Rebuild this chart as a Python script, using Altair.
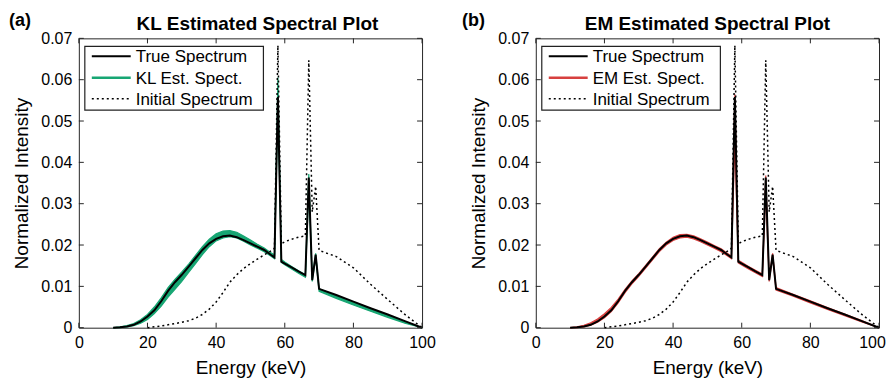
import altair as alt
import pandas as pd

FONT = "Liberation Sans"

energy = [10, 12, 14, 16, 18, 20, 22, 24, 26, 28, 30, 32, 34, 36, 38, 40, 42, 44, 46, 48,
          50, 52, 54, 56, 57, 58, 59, 60, 62, 64, 66, 67, 68, 69, 70, 75, 80, 85, 90, 95, 100]

true_spec = [0.0, 0.0001, 0.0003, 0.0007, 0.0015, 0.0027, 0.0042, 0.0064, 0.0089, 0.0110,
             0.0128, 0.0148, 0.0168, 0.0188, 0.0204, 0.0215, 0.0221, 0.0223, 0.0219, 0.0212,
             0.0204, 0.0196, 0.0188, 0.0176, 0.0170, 0.0558, 0.0160, 0.0155, 0.0146, 0.0136,
             0.0127, 0.0363, 0.0115, 0.0177, 0.0094, 0.0079, 0.0063, 0.0047, 0.0032, 0.0016, 0.0]

init_energy = energy[5:]
init_spec = [0.0, 0.0002, 0.0004, 0.0007, 0.0010, 0.0013, 0.0017, 0.0023, 0.0032, 0.0045,
             0.0062, 0.0085, 0.0110, 0.0128, 0.0143, 0.0155, 0.0166, 0.0176, 0.0186, 0.0192,
             0.0683, 0.0203, 0.0208, 0.0214, 0.0219, 0.0222, 0.0647, 0.0280, 0.0342, 0.0187,
             0.0172, 0.0145, 0.0105, 0.0068, 0.0032, 0.0]

kl_hi = [0.0, 0.0002, 0.0005, 0.0010, 0.0019, 0.0032, 0.0050, 0.0072, 0.0097, 0.0117,
         0.0135, 0.0154, 0.0175, 0.0196, 0.0214, 0.0227, 0.0234, 0.0235, 0.0231, 0.0222,
         0.0212, 0.0202, 0.0193, 0.0181, 0.0176, 0.0605, 0.0165, 0.0159, 0.0148, 0.0138,
         0.0128, 0.0372, 0.0118, 0.0180, 0.0094, 0.0078, 0.0062, 0.0046, 0.0031, 0.0015, 0.0]
kl_lo = [0.0, 0.0000, 0.0002, 0.0005, 0.0011, 0.0020, 0.0034, 0.0052, 0.0074, 0.0093,
         0.0112, 0.0134, 0.0155, 0.0177, 0.0196, 0.0210, 0.0217, 0.0220, 0.0217, 0.0209,
         0.0200, 0.0192, 0.0184, 0.0173, 0.0167, 0.0540, 0.0158, 0.0152, 0.0142, 0.0132,
         0.0122, 0.0340, 0.0112, 0.0170, 0.0088, 0.0071, 0.0055, 0.0040, 0.0025, 0.0011, 0.0]

em_hi = [0.0, 0.0002, 0.0006, 0.0012, 0.0021, 0.0034, 0.0049, 0.0069, 0.0093, 0.0113,
         0.0131, 0.0151, 0.0171, 0.0191, 0.0207, 0.0219, 0.0225, 0.0226, 0.0222, 0.0215,
         0.0207, 0.0199, 0.0191, 0.0179, 0.0173, 0.0565, 0.0163, 0.0158, 0.0148, 0.0139,
         0.0130, 0.0368, 0.0118, 0.0180, 0.0097, 0.0081, 0.0065, 0.0049, 0.0033, 0.0017, 0.0]
em_lo = [0.0, 0.0000, 0.0002, 0.0006, 0.0013, 0.0024, 0.0039, 0.0060, 0.0085, 0.0106,
         0.0124, 0.0144, 0.0164, 0.0184, 0.0200, 0.0211, 0.0217, 0.0219, 0.0215, 0.0208,
         0.0200, 0.0192, 0.0184, 0.0173, 0.0167, 0.0450, 0.0157, 0.0152, 0.0142, 0.0133,
         0.0124, 0.0330, 0.0112, 0.0172, 0.0091, 0.0076, 0.0060, 0.0044, 0.0029, 0.0014, 0.0]

x_ticks = [0, 20, 40, 60, 80, 100]
y_ticks = [0, 0.01, 0.02, 0.03, 0.04, 0.05, 0.06, 0.07]

W, H = 344, 290
TICK = 5
DOT = [2, 3]


def panel(est_name, hi, lo, color, title, tag, tag_x, title_dx, last_label_shift):
    xs = alt.Scale(domain=[0, 100], nice=False, zero=False)
    ys = alt.Scale(domain=[0, 0.07], nice=False, zero=False)
    xax = alt.Axis(values=x_ticks, ticks=False, domain=False, grid=False, labelFlush=False,
                   labelOffset={"condition": {"test": "datum.value == 100",
                                              "value": last_label_shift}, "value": 0},
                   labelFontSize=16, labelFont=FONT, labelColor="#000", labelPadding=7,
                   title="Energy (keV)", titleFontSize=19, titleFont=FONT,
                   titleFontWeight="normal", titleColor="#000", titlePadding=8)
    yax = alt.Axis(values=y_ticks, ticks=False, domain=False, grid=False, labelFlush=False,
                   labelFontSize=16, labelFont=FONT, labelColor="#000", labelPadding=7,
                   labelExpr="datum.value == 0 ? '0' : format(datum.value, '.2f')",
                   title="Normalized Intensity", titleFontSize=19, titleFont=FONT,
                   titleFontWeight="normal", titleColor="#000", titlePadding=9)

    def X(f):
        return alt.X(f, scale=xs, axis=xax)

    def Y(f):
        return alt.Y(f, scale=ys, axis=yax)

    band_df = pd.DataFrame({"E": energy, "lo": lo, "hi": hi})
    est_df = pd.concat([
        pd.DataFrame({"E": energy, "v": hi, "run": "a"}),
        pd.DataFrame({"E": energy, "v": lo, "run": "b"}),
    ])
    true_df = pd.DataFrame({"E": energy, "v": true_spec})
    init_df = pd.DataFrame({"E": init_energy, "v": init_spec})

    band = alt.Chart(band_df).mark_area(color=color, opacity=1).encode(
        x=X("E:Q"), y=Y("lo:Q"), y2="hi:Q")
    est = alt.Chart(est_df).mark_line(strokeWidth=1.2, color=color).encode(
        x=X("E:Q"), y=Y("v:Q"), detail="run:N")
    init = alt.Chart(init_df).mark_line(strokeWidth=1.5, color="#000", strokeDash=DOT).encode(
        x=X("E:Q"), y=Y("v:Q"))
    true = alt.Chart(true_df).mark_line(strokeWidth=2, color="#000").encode(
        x=X("E:Q"), y=Y("v:Q"))

    xt = pd.DataFrame({"t": x_ticks})
    yt = pd.DataFrame({"t": y_ticks})
    tick_col = "#262626"
    xt_b = alt.Chart(xt).mark_rule(color=tick_col, strokeWidth=1).encode(
        x=X("t:Q"), y=alt.value(H), y2=alt.value(H - TICK))
    xt_t = alt.Chart(xt).mark_rule(color=tick_col, strokeWidth=1).encode(
        x=X("t:Q"), y=alt.value(0), y2=alt.value(TICK))
    yt_l = alt.Chart(yt).mark_rule(color=tick_col, strokeWidth=1).encode(
        y=Y("t:Q"), x=alt.value(0), x2=alt.value(TICK))
    yt_r = alt.Chart(yt).mark_rule(color=tick_col, strokeWidth=1).encode(
        y=Y("t:Q"), x=alt.value(W - TICK), x2=alt.value(W))

    # legend (drawn by hand)
    labels = ["True Spectrum", est_name, "Initial Spectrum"]
    styles = [("#000", 2, None), (color, 2.6, None), ("#000", 1.5, DOT)]
    row_y = [18, 39.5, 60.5]
    leg_box = alt.Chart(pd.DataFrame({"k": [0]})).mark_rect(
        fill="white", stroke="#222222", strokeWidth=1.2).encode(
        x=alt.value(6), x2=alt.value(185), y=alt.value(8), y2=alt.value(72))
    leg_layers = [leg_box]
    for lab, (c, sw, dash), ry in zip(labels, styles, row_y):
        rargs = dict(color=c, strokeWidth=sw)
        if dash:
            rargs["strokeDash"] = dash
        leg_layers.append(alt.Chart(pd.DataFrame({"k": [0]})).mark_rule(**rargs).encode(
            x=alt.value(13), x2=alt.value(52), y=alt.value(ry), y2=alt.value(ry)))
        leg_layers.append(alt.Chart(pd.DataFrame({"lab": [lab]})).mark_text(
            align="left", baseline="middle", fontSize=17, font=FONT, color="#000").encode(
            text="lab:N", x=alt.value(57), y=alt.value(ry + 1)))

    tag_txt = alt.Chart(pd.DataFrame({"tag": [tag]})).mark_text(
        align="left", baseline="alphabetic", fontSize=18, fontWeight="bold",
        font=FONT, color="#000").encode(text="tag:N", x=alt.value(tag_x), y=alt.value(-12))
    title_txt = alt.Chart(pd.DataFrame({"ttl": [title]})).mark_text(
        align="center", baseline="alphabetic", fontSize=19, fontWeight="bold",
        font=FONT, color="#000").encode(text="ttl:N", x=alt.value(W / 2 + title_dx),
                                        y=alt.value(-8))

    return alt.layer(band, est, init, true, xt_b, xt_t, yt_l, yt_r, *leg_layers,
                     tag_txt, title_txt).properties(width=W, height=H)


pa = panel("KL Est. Spect.", kl_hi, kl_lo, "#17a673", "KL Estimated Spectral Plot",
           "(a)", -70, 7, 0)
pb = panel("EM Est. Spect.", em_hi, em_lo, "#d7403f", "EM Estimated Spectral Plot",
           "(b)", -74, 0, -7)

chart = alt.hconcat(pa, pb, spacing=25).properties(
    padding={"left": 0, "right": 0, "top": 3, "bottom": 0}
).configure_view(stroke="#262626", strokeWidth=1)

chart.save("out.html", embed_options={"renderer": "svg", "actions": False})
